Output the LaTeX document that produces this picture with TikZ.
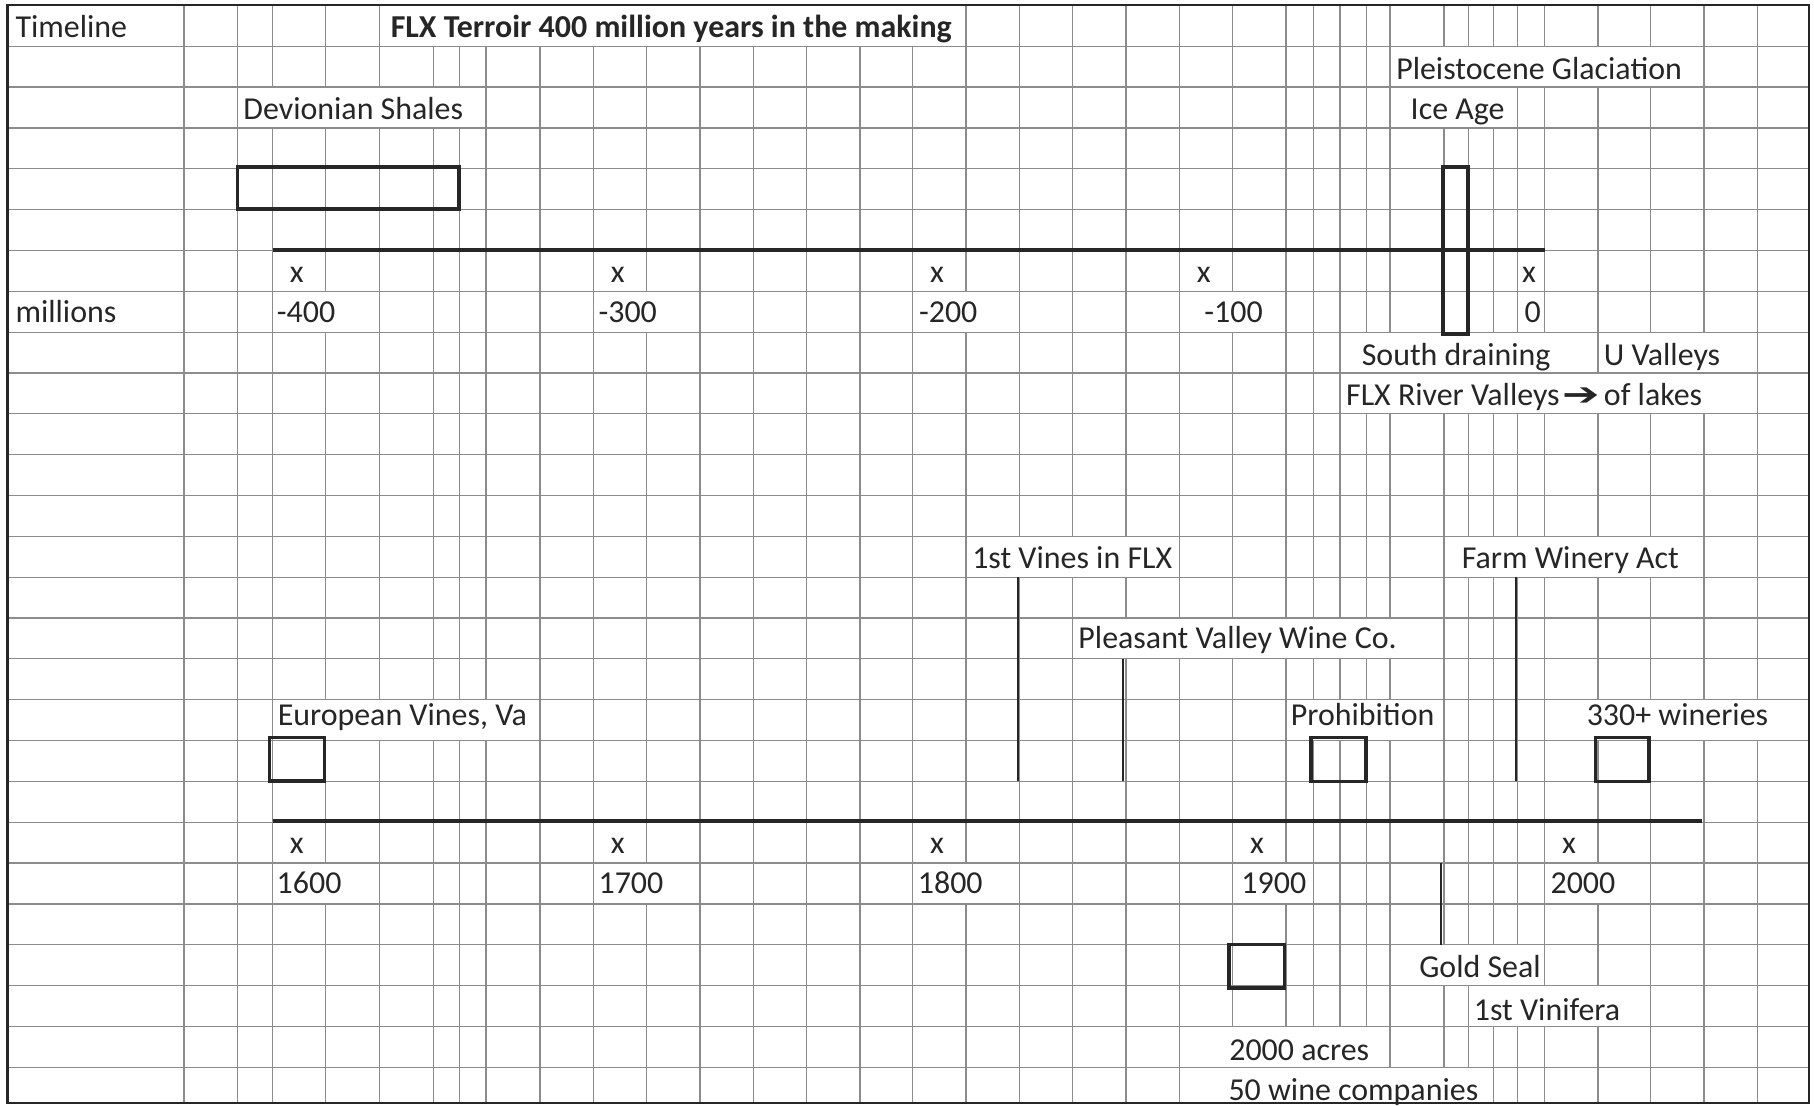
\documentclass[tikz,border=0pt]{standalone}
\usepackage{fontspec}
\setmainfont{Carlito}
\newfontfamily\arrowfont{DejaVu Sans}
\usepackage{graphicx}
\usepackage{tikz}

\tikzset{
  gridline/.style={black!45, line width=0.55pt},
  frame/.style={black!85, line width=1.1pt},
  axis/.style={black!85, line width=1.7pt},
  markbox/.style={black!85, line width=1.6pt},
  eventline/.style={black!85, line width=0.9pt},
  cell/.style={anchor=base west, xshift=-1pt, fill=white, inner xsep=1pt,
    inner ysep=0pt, text=black!85, font=\fontsize{13.8}{16}\selectfont},
  rowfit/.style 2 args={text height=#1, text depth=#2},
  tick/.style={cell, anchor=base, xshift=0pt}
}

\begin{document}
\begin{tikzpicture}[x=0.5pt, y=-0.5pt]
  \useasboundingbox (0,0) rectangle (1568,956);
  \foreach \c in {159,205.4,235.7,281.5,327.9,374.6,397,420,466.8,512.8,559,605,651,
      697.3,743.4,789,835,881,927.2,973.3,1019.4,1065.5,1111.6,1135.2,1158.3,1181.3,
      1201.5,1248.2,1269.2,1290.8,1312,1335.2,1381.3,1426.8,1472.9,1518.9}
    \draw[gridline] (\c,4.5) -- (\c,953.5);

  \node[cell, rowfit={13.75pt}{4pt}] (timeline) at (13,32) {Timeline};
  \node[cell, rowfit={13.75pt}{4pt}, font=\fontsize{13.8}{16}\selectfont\bfseries]
    (title) at (337.4,32) {FLX Terroir 400 million years in the making};
  \node[cell, rowfit={14.15pt}{3.5pt}] (glacier) at (1206.5,68.3) {Pleistocene Glaciation};
  \node[cell, rowfit={14.15pt}{3.5pt}] (shales) at (210,103.6) {Devionian Shales};
  \node[cell, rowfit={14.15pt}{3.5pt}] (iceage) at (1219,103.6) {Ice Age};
  \foreach \x [count=\i] in {258.6,535.9,812,1042.5,1323.6}
    \node[tick, rowfit={13.65pt}{4pt}] (mx\i) at (\x,243.8) {x};
  \node[cell, rowfit={13.6pt}{4.05pt}] (millions) at (13,279) {millions};
  \foreach \x/\n [count=\i] in {239/-400,517/-300,794/-200,1040.7/-100,1317.5/0}
    \node[cell, rowfit={13.6pt}{4.05pt}] (mya\i) at (\x,279) {\n};
  \node[cell, rowfit={14.45pt}{3.2pt}] (south) at (1176.7,316) {South draining};
  \node[cell, rowfit={14.45pt}{3.2pt}] (uvalley) at (1385.9,316) {U Valleys};
  \node[cell, rowfit={14.05pt}{3.6pt}] (rivers) at (1163.2,350.5)
    {FLX River Valleys\kern1pt\scalebox{1.4}[1]{\arrowfont\bfseries ➔}};
  \node[cell, rowfit={14.05pt}{3.6pt}] (lakes) at (1386,350.5) {of lakes};

  \node[cell, rowfit={13.7pt}{3.95pt}] (vines) at (840,491) {1st Vines in FLX};
  \node[cell, rowfit={13.7pt}{3.95pt}] (farm) at (1263.2,491) {Farm Winery Act};
  \node[cell, rowfit={13.15pt}{4.5pt}] (pleasant) at (931.8,560.5) {Pleasant Valley Wine Co.};
  \node[cell, rowfit={11.35pt}{6.3pt}] (europe) at (239.7,627.5) {European Vines, Va};
  \node[cell, rowfit={11.35pt}{6.3pt}] (prohib) at (1115.4,627.5) {Prohibition};
  \node[cell, rowfit={11.35pt}{6.3pt}] (wineries) at (1371.2,627.5) {330+ wineries};
  \foreach \x [count=\i] in {258.6,535.9,812,1088.5,1358.3}
    \node[tick, rowfit={13.65pt}{4pt}] (cx\i) at (\x,738) {x};
  \foreach \x/\n [count=\i] in {238.8/1600,517/1700,793/1800,1072.7/1900,1339.9/2000}
    \node[cell, rowfit={13pt}{4.65pt}] (yr\i) at (\x,772) {\n};
  \node[cell, rowfit={14.2pt}{3.45pt}] (gold) at (1226.4,845) {Gold Seal};
  \node[cell, rowfit={15.05pt}{2.6pt}] (vinifera) at (1273.6,882) {1st Vinifera};
  \node[cell, rowfit={14.9pt}{2.75pt}] (acres) at (1062.2,917) {2000 acres};
  \node[cell, rowfit={14.5pt}{1pt}] (companies) at (1061.5,951.5) {50 wine companies};

  \foreach \r in {0,...,25}
    \draw[gridline] (6.3,{40+35.3*\r}) -- (1563.7,{40+35.3*\r});
  \draw[frame] (6.3,4.5) rectangle (1563.7,953.5);
  \draw[markbox] (205.4,144.5) rectangle (397,180.5);
  \draw[markbox] (1247.5,144.5) rectangle (1269.2,289);
  \draw[axis] (235.7,216.5) -- (1335.2,216.5);
  \draw[markbox] (233,637.5) rectangle (280.5,675);
  \draw[markbox] (1133,637.5) rectangle (1180.5,675.5);
  \draw[markbox] (1379,637.5) rectangle (1425.5,675.5);
  \draw[markbox] (1062.2,816.5) rectangle (1110.2,854);
  \draw[axis] (235.7,710) -- (1471,710);
  \foreach \x/\ya/\yb in {880/498.9/675.4,970.4/569.5/675.4,1310.4/498.9/675.4,1245.2/746/816.6}
    \draw[eventline] (\x,\ya) -- (\x,\yb);
\end{tikzpicture}
\end{document}
